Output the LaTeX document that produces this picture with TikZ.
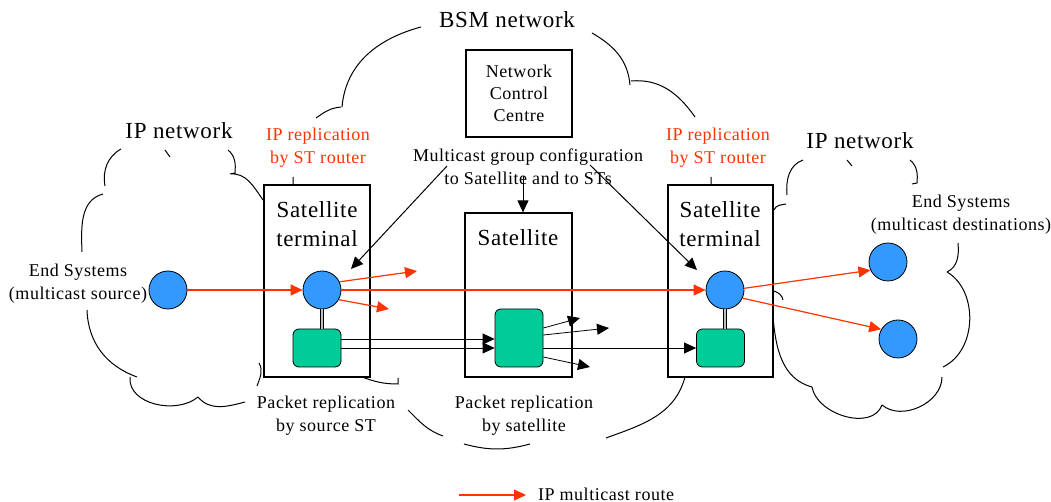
\documentclass[tikz,border=0pt]{standalone}
\usepackage{fontspec}
\setmainfont{Liberation Serif}[LetterSpace=3]
\usetikzlibrary{arrows.meta}
\definecolor{ipred}{RGB}{255,51,0}
\definecolor{esblue}{RGB}{51,153,255}
\definecolor{pkgreen}{RGB}{0,204,153}

\begin{document}
\begin{tikzpicture}[x=0.5pt,y=-0.5pt,>={Triangle[length=6pt,width=5.5pt]},
    box/.style={draw,fill=white,line width=0.6pt,inner sep=0pt},
    es/.style={circle,draw,fill=esblue,minimum size=19pt,inner sep=0pt},
    pk/.style={draw,fill=pkgreen,rounded corners=3pt,minimum width=24pt,inner sep=0pt},
    ip/.style={->,draw=ipred,fill=ipred,line width=0.6pt},
    cfg/.style={->,line width=0.5pt},
    cloudarc/.style={line width=0.5pt},
    lbl/.style={font=\fontsize{9}{11.5}\selectfont,align=center},
    big/.style={font=\fontsize{11.5}{14.5}\selectfont,align=center}]
        \useasboundingbox (0,0) rectangle (1051,502);
        % clouds
        \draw[cloudarc] (421,27) to[out=195,in=85] (342,107)
            (341,107) to[out=185,in=35] (316,118)
            (293,177) -- (293,185)
            (362,377) to[out=-20,in=180] (398,384) -- (398,378)
            (408,410) to[out=-45,in=160] (443,436)
            (464,444) to[out=-15,in=195] (530,444)
            (606,438) to[out=20,in=-105] (685,377)
            (592,33) to[out=-30,in=95] (630,85)
            (631,81) to[out=5,in=125] (695,117)
            (711,177) -- (711,185);
        \draw[cloudarc] (105,186) to[out=100,in=210] (121,149)
            (165,150) -- (170,157)
            (228,150) to[out=-40,in=85] (235,173) -- (230,174)
            (230,174) to[out=5,in=125] (263,200)
            (103,194) to[out=195,in=92] (82,252)
            (87,310) to[out=-88,in=160] (137,377)
            (130,377) to[out=-95,in=-140] (198,397)
            (198,397) to[out=-50,in=195] (245,402)
            (259,363) to[out=-60,in=70] (257,386);
        \draw[cloudarc] (787,195) to[out=95,in=200] (803,160)
            (847,160) -- (852,166)
            (910,160) to[out=-40,in=85] (917,183) -- (912,184)
            (774,210) to[out=70,in=190] (786,204)
            (958,243) to[out=-85,in=25] (947,272)
            (947,272) .. controls (978,290) and (978,350) .. (943,367)
            (942,377) to[out=-90,in=-40] (882,405)
            (882,405) to[out=-110,in=-80] (812,387)
            (812,387) to[out=165,in=-85] (773,317)
            (774,291) to[out=-20,in=100] (783,300);
        % boxes
        \node[box,minimum width=53pt,minimum height=43.5pt,lbl,font=\fontsize{9}{11}\selectfont] (ncc) at (519,93.5) {Network\\Control\\Centre};
        \node[box,minimum width=53pt,minimum height=96pt] (stL) at (317,281) {};
        \node[box,minimum width=53.5pt,minimum height=82pt] (sat) at (518.5,295) {};
        \node[box,minimum width=52.5pt,minimum height=96pt] (stR) at (720.5,281) {};
        \node[big] (stLT) at (317,224.5) {Satellite\\terminal};
        \node[big] (satT) at (518,238) {Satellite};
        \node[big] (stRT) at (720,224.5) {Satellite\\terminal};
        % labels
        \node[big] (bsmT) at (507,20) {BSM network};
        \node[big] (ipLT) at (179,131) {IP network};
        \node[big] (ipRT) at (860,141) {IP network};
        \node[lbl,text=ipred] (repL) at (318,147.5) {IP replication\\by ST router};
        \node[lbl,text=ipred] (repR) at (718,147.5) {IP replication\\by ST router};
        \node[lbl] (cfgT) at (528,166.5) {Multicast group configuration\\to Satellite and to STs};
        \node[lbl] (srcT) at (78,283.5) {End Systems\\(multicast source)};
        \node[lbl] (dstT) at (961,215) {End Systems\\(multicast destinations)};
        \node[lbl] (pkLT) at (326,416) {Packet replication\\by source ST};
        \node[lbl] (pkST) at (524,416) {Packet replication\\by satellite};
        % end systems and routers
        \node[es] (srcES) at (168,290) {};
        \node[es] (rtL) at (322,290) {};
        \node[es] (rtR) at (725,290) {};
        \node[es] (dst1) at (888,262) {};
        \node[es] (dst2) at (898,339) {};
        \node[pk,minimum height=19pt] (pkL) at (317,348) {};
        \node[pk,minimum height=29pt] (pkS) at (519,338) {};
        \node[pk,minimum height=19pt] (pkR) at (720.5,348) {};
        \draw[double=gray!50,double distance=1pt,line width=0.4pt] (rtL.south) -- (rtL.south |- pkL.north);
        \draw[double=gray!50,double distance=1pt,line width=0.4pt] (rtR.south) -- (rtR.south |- pkR.north);
        % IP multicast route
        \coordinate (fanA) at (417,271);
        \coordinate (fanB) at (389,309);
        \draw[ip] (srcES) -- (rtL);
        \draw[ip] (rtL) -- (rtR);
        \draw[ip] (rtL.25) -- (fanA);
        \draw[ip] (rtL.-30) -- (fanB);
        \draw[ip] (rtR.5) -- (dst1.205);
        \draw[ip] (rtR.-25) -- (dst2.150);
        % packet replication
        \coordinate (pkLa) at ([yshift=4.5pt]pkL.east);
        \draw[->] (pkLa) -- (pkLa -| pkS.west);
        \draw[->] (pkL.east) -- (pkL.east -| pkS.west);
        \draw[->] (pkR.west -| pkS.east) -- (pkR.west);
        \draw[->] ([yshift=5pt]pkS.east) -- (580,318);
        \draw[->] ([yshift=1.5pt]pkS.east) -- (609,328);
        \draw[->] ([yshift=-9.5pt]pkS.east) -- (590,367);
        % group configuration
        \coordinate (cfgA) at (447,166);
        \coordinate (cfgB) at (523,176);
        \coordinate (cfgC) at (590,165);
        \coordinate (cfgAt) at (351,269);
        \coordinate (cfgCt) at (697,270);
        \draw[cfg] (cfgA) -- (cfgAt);
        \draw[cfg] (cfgB) -- (cfgB |- sat.north);
        \draw[cfg] (cfgC) -- (cfgCt);
        % legend
        \coordinate (legA) at (459,495);
        \node[lbl,anchor=west] (legT) at (531,494) {IP multicast route};
        \draw[ip] (legA) -- (legA -| 526,0);
    \end{tikzpicture}
\end{document}
